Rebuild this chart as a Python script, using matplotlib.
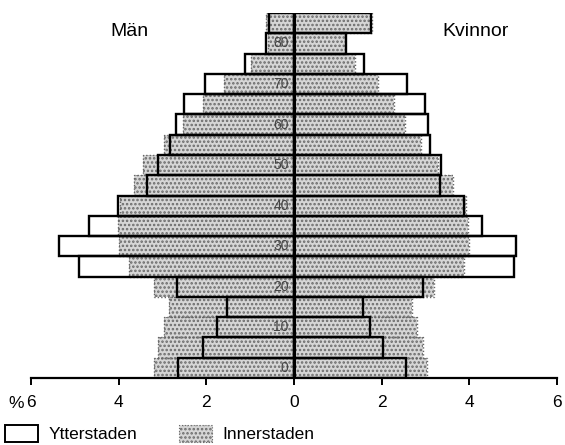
import matplotlib
matplotlib.use("Agg")
import matplotlib.pyplot as plt
from matplotlib.patches import Patch
import numpy as np

plt.rcParams['font.family'] = ['Liberation Sans', 'DejaVu Sans']
plt.rcParams['hatch.linewidth'] = 1.2

# Age groups 0-4 ... 85+ (bottom to top)
age_labels = ['0', '', '10', '', '20', '', '30', '', '40', '', '50', '', '60', '', '70', '', '80', '']

# Percent of population, men (left) and women (right)
men_ytter = [2.65, 2.08, 1.76, 1.53, 2.67, 4.91, 5.36, 4.68, 4.02, 3.36, 3.10, 2.83, 2.69, 2.51, 2.03, 1.12, 0.64, 0.57]
men_inner = [3.20, 3.11, 2.97, 2.85, 3.20, 3.77, 3.99, 4.02, 3.98, 3.65, 3.45, 2.97, 2.53, 2.08, 1.60, 0.98, 0.60, 0.64]
women_ytter = [2.56, 2.02, 1.74, 1.57, 2.94, 5.03, 5.07, 4.29, 3.87, 3.32, 3.36, 3.10, 3.05, 2.99, 2.57, 1.60, 1.19, 1.75]
women_inner = [3.03, 2.94, 2.81, 2.69, 3.19, 3.87, 4.00, 3.96, 3.93, 3.62, 3.28, 2.90, 2.53, 2.29, 1.91, 1.39, 1.17, 1.78]

xticks = [-6, -4, -2, 0, 2, 4, 6]
xtick_labels = ['6', '4', '2', '0', '2', '4', '6']

fig = plt.figure(figsize=(5.65, 4.45), dpi=100)
ax = fig.add_axes([31/565, 1-378/445, (557-31)/565, (378-13)/445])

y = np.arange(len(age_labels))
men_i = -np.array(men_inner)
men_y = -np.array(men_ytter)

stip_face = '#d6d6d6'
stip_hatch = '#6a6a6a'

for vals in (men_i, np.array(women_inner)):
    ax.barh(y, vals, height=1.0, left=0, facecolor=stip_face, edgecolor=stip_hatch,
            hatch='....', linewidth=0, zorder=2)
    ax.barh(y, vals, height=1.0, left=0, fill=False, edgecolor='#666666',
            linewidth=1.0, linestyle=(0, (1, 1.5)), zorder=2.5)

for vals in (men_y, np.array(women_ytter)):
    ax.barh(y, vals, height=1.0, left=0, fill=False, edgecolor='black',
            linewidth=1.7, zorder=3)

ax.axvline(0, color='black', linewidth=2.2, zorder=4)

for yi, lab in zip(y, age_labels):
    if lab:
        ax.text(-0.12, yi, lab, ha='right', va='center', fontsize=10, color='#444444', zorder=5)

ax.set_xlim(-6, 6)
ax.set_ylim(-0.5, len(age_labels) - 0.5)
ax.set_xticks(xticks)
ax.set_xticklabels(xtick_labels, fontsize=12.5)
ax.set_yticks([])
for s in ('top', 'right', 'left'):
    ax.spines[s].set_visible(False)
ax.spines['bottom'].set_linewidth(1.6)
ax.tick_params(axis='x', direction='out', length=5, width=1.4, pad=7)

fig.text(24/565, 1-404/445, '%', ha='right', va='center', fontsize=12.5)
fig.text(129/565, 1-31/445, 'Män', ha='center', va='center', fontsize=14)
fig.text(476/565, 1-31/445, 'Kvinnor', ha='center', va='center', fontsize=14)

handles = [Patch(facecolor='white', edgecolor='black', linewidth=1.4, label='Ytterstaden'),
           Patch(facecolor=stip_face, edgecolor=stip_hatch, hatch='....', linewidth=0.8,
                 linestyle=':', label='Innerstaden')]
fig.legend(handles=handles, loc='lower left', bbox_to_anchor=(0.0, -0.005), ncol=2,
           frameon=False, fontsize=12.5, handlelength=1.9, handleheight=1.15,
           handletextpad=0.6, columnspacing=2.4, borderaxespad=0.0, borderpad=0.3)

fig.savefig('out.png', dpi=100)
